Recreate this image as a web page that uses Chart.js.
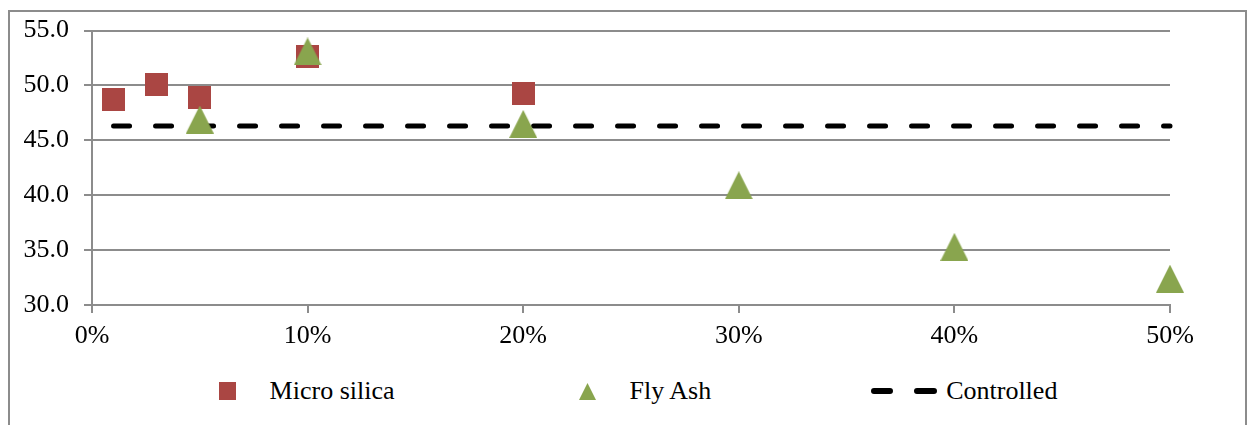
<!DOCTYPE html>
<html>
<head>
<meta charset="utf-8">
<script src="https://cdn.jsdelivr.net/npm/chart.js@4/dist/chart.umd.min.js"></script>
<style>
  html, body { margin: 0; padding: 0; background: #ffffff; }
  #page { position: relative; width: 1252px; height: 425px; overflow: hidden; background: #ffffff; }
  #frame { position: absolute; left: 8px; top: 10px; width: 1235px; height: 430px;
           border: 2px solid #8c8c8c; border-bottom: none; }
  #plot { position: absolute; left: 0; top: 0; }
  #legend { position: absolute; left: 0; top: 377px; width: 1252px; height: 28px;
            display: flex; justify-content: center; align-items: center; gap: 160px;
            font-family: "Liberation Serif", "Times New Roman", serif; font-size: 26px; color: #000; }
  .item { display: flex; align-items: center; white-space: nowrap; }
</style>
</head>
<body>
<div id="page">
  <div id="frame"></div>
  <canvas id="plot" width="1252" height="360"></canvas>
  <div id="legend"></div>
</div>
<script>
// Replacement level (%) and compressive strength for each admixture
const microSilicaX = [1, 3, 5, 10, 20];
const microSilicaY = [48.7, 50.1, 48.9, 52.6, 49.3];
const flyAshX = [5, 10, 20, 30, 40, 50];
const flyAshY = [46.9, 53.1, 46.5, 40.9, 35.3, 32.4];
const controlledX = [1, 3, 5, 10, 20, 30, 40, 50];
const controlledY = [46.3, 46.3, 46.3, 46.3, 46.3, 46.3, 46.3, 46.3];
const seriesNames = ['Micro silica', 'Fly Ash', 'Controlled'];
const xTicks = [0, 10, 20, 30, 40, 50];
const yTicks = [30, 35, 40, 45, 50, 55];

const RED = '#AA4643';
const GREEN = '#89A54E';
const GRID = '#8c8c8c';
const FONT = '"Liberation Serif", "Times New Roman", serif';

function squareMarker(w, h) {
  const c = document.createElement('canvas');
  c.width = w; c.height = h;
  const g = c.getContext('2d');
  g.fillStyle = RED;
  g.fillRect(0, 0, w, h);
  return c;
}
function triangleMarker(w, h) {
  const c = document.createElement('canvas');
  c.width = w; c.height = h;
  const g = c.getContext('2d');
  g.fillStyle = GREEN;
  g.beginPath();
  g.moveTo(w / 2, 0);
  g.lineTo(w, h);
  g.lineTo(0, h);
  g.closePath();
  g.fill();
  return c;
}
function dashMarker(w, h) {
  const c = document.createElement('canvas');
  c.width = w; c.height = h;
  const g = c.getContext('2d');
  g.strokeStyle = '#000';
  g.lineWidth = 6;
  g.lineCap = 'round';
  g.beginPath();
  g.moveTo(3, h / 2); g.lineTo(19, h / 2);
  g.moveTo(46, h / 2); g.lineTo(63, h / 2);
  g.stroke();
  return c;
}

const toPoints = (xs, ys) => xs.map((x, i) => ({ x: x, y: ys[i] }));

const chart = new Chart(document.getElementById('plot'), {
  type: 'scatter',
  data: {
    datasets: [
      {
        label: seriesNames[0],
        data: toPoints(microSilicaX, microSilicaY),
        pointStyle: squareMarker(23, 23),
        pointRadius: 12,
        clip: false,
        order: 2
      },
      {
        label: seriesNames[1],
        data: toPoints(flyAshX, flyAshY),
        pointStyle: triangleMarker(28, 28),
        pointRadius: 14,
        clip: false,
        order: 1
      },
      {
        label: seriesNames[2],
        data: toPoints(controlledX, controlledY),
        showLine: true,
        borderColor: '#000000',
        borderWidth: 5,
        borderDash: [16, 26],
        borderCapStyle: 'round',
        pointRadius: 0,
        clip: false,
        order: 3
      }
    ]
  },
  options: {
    responsive: false,
    animation: false,
    devicePixelRatio: 1,
    layout: { padding: { left: 0, right: 82, top: 25, bottom: 0 } },
    plugins: { legend: { display: false }, tooltip: { enabled: false } },
    scales: {
      x: {
        type: 'linear',
        min: 0, max: 50,
        afterBuildTicks: s => { s.ticks = xTicks.map(v => ({ value: v })); },
        afterFit: s => { s.height = 55; },
        ticks: { callback: v => v + '%', color: '#000', padding: 8, maxRotation: 0,
                 font: { family: FONT, size: 26 } },
        grid: { drawOnChartArea: false, drawTicks: true, tickLength: 8, color: GRID, lineWidth: 2 },
        border: { display: true, color: GRID, width: 2 }
      },
      y: {
        type: 'linear',
        min: 30, max: 55,
        afterBuildTicks: s => { s.ticks = yTicks.map(v => ({ value: v })); },
        afterFit: s => { s.width = 92; },
        ticks: { callback: v => v.toFixed(1), color: '#000', padding: 15,
                 font: { family: FONT, size: 26 } },
        grid: { drawTicks: true, tickLength: 8, color: GRID, lineWidth: 2 },
        border: { display: true, color: GRID, width: 2 }
      }
    }
  }
});

// Legend built from the chart's own datasets
const legendMarkers = [squareMarker(17, 18), triangleMarker(17, 17), dashMarker(66, 8)];
const legendEl = document.getElementById('legend');
chart.data.datasets.forEach((ds, i) => {
  const item = document.createElement('div');
  item.className = 'item';
  const box = document.createElement('div');
  box.style.cssText = 'width:66px;display:flex;justify-content:center;margin-right:9px;';
  const m = legendMarkers[i];
  m.style.display = 'block';
  box.appendChild(m);
  const label = document.createElement('span');
  label.textContent = ds.label;
  item.appendChild(box);
  item.appendChild(label);
  legendEl.appendChild(item);
});
</script>
</body>
</html>
